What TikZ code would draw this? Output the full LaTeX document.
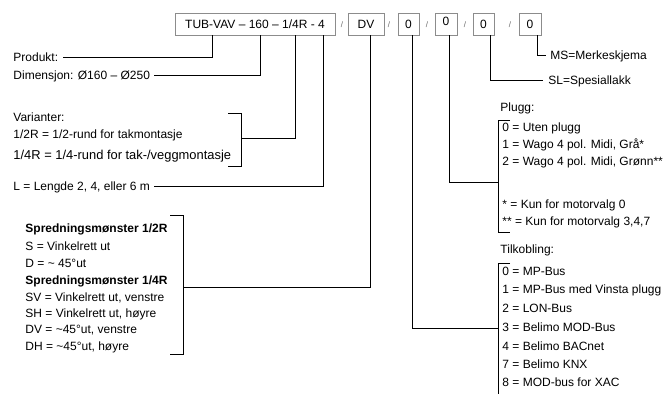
\documentclass[tikz,border=0pt]{standalone}
\usepackage{fontspec}
\setmainfont{Liberation Sans}
\begin{document}
\begin{tikzpicture}[x=1pt,y=-1pt, line width=0.9pt,
  lbl/.style={anchor=west, inner sep=0pt, text height=8.6pt, text depth=0pt, font=\fontsize{12}{14}\selectfont},
  codebox/.style={draw=black!45, line width=0.8pt, minimum height=22pt, inner sep=0pt, font=\fontsize{12}{14}\selectfont, text height=8.6pt, text depth=0pt},
  sepmark/.style={inner sep=0pt, font=\fontsize{8}{9}\selectfont, text=black!60}]
\useasboundingbox (0,0) rectangle (666,394);

% code boxes
\node[codebox, minimum width=160pt] (tub) at (255,24) {TUB-VAV – 160 – 1/4R - 4};
\node[codebox, minimum width=36pt] (dv) at (366,24) {DV};
\node[codebox, minimum width=21pt] (b1) at (408.5,24) {0};
\node[codebox, minimum width=22pt] (b2) at (446,24) {\raisebox{3pt}{0}};
\node[codebox, minimum width=21pt] (b3) at (483.5,24) {0};
\node[codebox, minimum width=22pt] (b4) at (530,24) {0};
\node[sepmark] (s1) at (342,25) {/};
\node[sepmark] (s2) at (389,25) {/};
\node[sepmark] (s3) at (427,25) {/};
\node[sepmark] (s4) at (465,25) {/};
\node[sepmark] (s5) at (510,25) {/};

% left texts
\node[lbl] (produkt) at (13,57) {Produkt:};
\node[lbl] (dim) at (13,75) {Dimensjon: Ø160 – Ø250};
\node[lbl] (var) at (13,117) {Varianter:};
\node[lbl] (var1) at (13,134) {1/2R = 1/2-rund for takmontasje};
\node[lbl, font=\fontsize{12.9}{15}\selectfont] (var2) at (13,155) {1/4R = 1/4-rund for tak-/veggmontasje};
\node[lbl] (len) at (13,186) {L = Lengde 2, 4, eller 6 m};

\node[lbl, font=\fontsize{12}{14}\selectfont\bfseries] (sp1) at (25,228) {Spredningsmønster 1/2R};
\node[lbl] (spS) at (25,246) {S = Vinkelrett ut};
\node[lbl] (spD) at (25,263) {D = \textasciitilde\ 45°ut};
\node[lbl, font=\fontsize{12}{14}\selectfont\bfseries] (sp2) at (25,280) {Spredningsmønster 1/4R};
\node[lbl] (spSV) at (25,297) {SV = Vinkelrett ut, venstre};
\node[lbl] (spSH) at (25,313) {SH = Vinkelrett ut, høyre};
\node[lbl] (spDV) at (25,329) {DV = \textasciitilde45°ut, venstre};
\node[lbl] (spDH) at (25,346) {DH = \textasciitilde45°ut, høyre};

% right texts
\node[lbl] (ms) at (550,55) {MS=Merkeskjema};
\node[lbl] (sl) at (548,80) {SL=Spesiallakk};
\node[lbl] (plugg) at (500,107) {Plugg:};
\node[lbl] (p0) at (502,127.5) {0 = Uten plugg};
\node[lbl] (p1) at (502,144) {1 = Wago 4 pol. Midi, Grå*};
\node[lbl] (p2) at (502,161) {2 = Wago 4 pol. Midi, Grønn**};
\node[lbl] (pa) at (502,204) {* = Kun for motorvalg 0};
\node[lbl] (pb) at (502,221) {** = Kun for motorvalg 3,4,7};
\node[lbl] (tilk) at (500,249) {Tilkobling:};
\node[lbl] (t0) at (502,271) {0 = MP-Bus};
\node[lbl] (t1) at (502,289) {1 = MP-Bus med Vinsta plugg};
\node[lbl] (t2) at (502,308) {2 = LON-Bus};
\node[lbl] (t3) at (502,327) {3 = Belimo MOD-Bus};
\node[lbl] (t4) at (502,346) {4 = Belimo BACnet};
\node[lbl] (t7) at (502,364) {7 = Belimo KNX};
\node[lbl] (t8) at (502,382) {8 = MOD-bus for XAC};

% connector x positions
\coordinate (cP) at (212,0);
\coordinate (cDim) at (260,0);
\coordinate (cV) at (295,0);
\coordinate (cL) at (323,0);
\coordinate (cD) at (370,0);
\coordinate (c1) at (412,0);
\coordinate (c2) at (449,0);
\coordinate (c3) at (490,0);
\coordinate (c4) at (537,0);

% brackets
\coordinate (vt) at (228,113);
\coordinate (vb) at (228,166);
\coordinate (vm) at (241,138);
\coordinate (st) at (170,215);
\coordinate (sb) at (170,354);
\coordinate (sm) at (183,287);
\coordinate (pt) at (510,120.5);
\coordinate (pbt) at (510,232);
\coordinate (pm) at (498,182);
\coordinate (tt) at (510,263);
\coordinate (tm) at (498,328);
\coordinate (tend) at (498,394);

\draw (vt) -- (vt -| vm) -- (vb -| vm) -- (vb);
\draw (st) -- (st -| sm) -- (sb -| sm) -- (sb);
\draw (pt) -- (pt -| pm) -- (pbt -| pm) -- (pbt);
\draw (tt) -- (tt -| tm) -- (tend);

% connectors
\draw (tub.south -| cP) |- ([xshift=4pt]produkt.east);
\draw (tub.south -| cDim) |- ([xshift=4pt]dim.east);
\draw (tub.south -| cV) |- (vm);
\draw (tub.south -| cL) |- ([xshift=4pt]len.east);
\draw (dv.south -| cD) |- (sm);
\draw (b1.south -| c1) |- (tm);
\draw (b2.south -| c2) |- (pm);
\draw (b3.south -| c3) |- ([xshift=-5pt]sl.west);
\draw (b4.south -| c4) |- ([xshift=-4pt]ms.west);
\end{tikzpicture}
\end{document}
